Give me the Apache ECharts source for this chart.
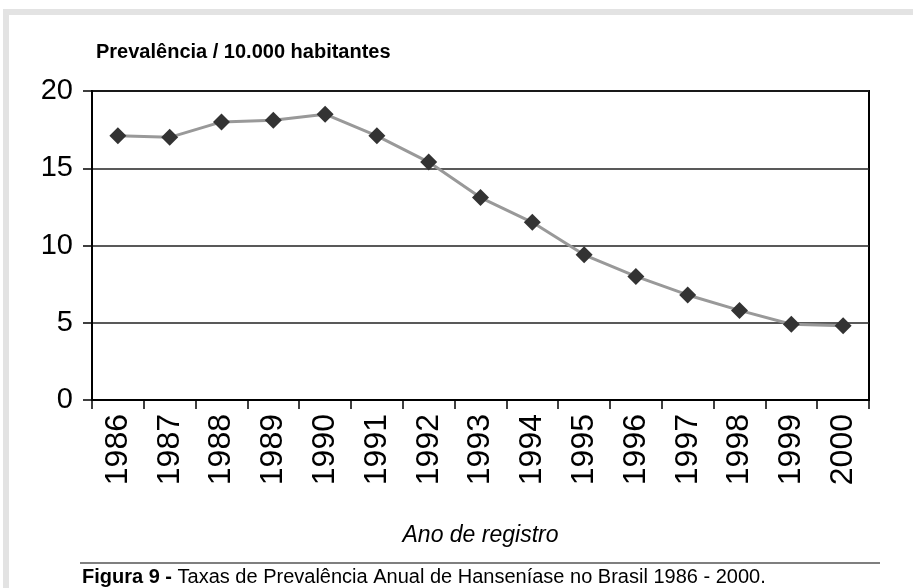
<!DOCTYPE html>
<html>
<head>
<meta charset="utf-8">
<script src="https://cdn.jsdelivr.net/npm/echarts@6/dist/echarts.min.js"></script>
<style>
    html, body { margin: 0; padding: 0; background: #fff; }
    #main { width: 913px; height: 588px; }
</style>
</head>
<body>
<div id="main"></div>
<script>
    var anos = ['1986', '1987', '1988', '1989', '1990', '1991', '1992', '1993',
        '1994', '1995', '1996', '1997', '1998', '1999', '2000'];
    // prevalencia por 10.000 habitantes
    var prevalencia = [17.1, 17.0, 18.0, 18.1, 18.5, 17.1, 15.4, 13.1,
        11.5, 9.4, 8.0, 6.8, 5.8, 4.9, 4.8];
    var yMin = 0, yMax = 20, yStep = 5;

    var titulo = 'Prevalência / 10.000 habitantes';
    var eixoX = 'Ano de registro';

    var fonte = 'Liberation Sans, Arial, sans-serif';

    var myChart = echarts.init(document.getElementById('main'));
    myChart.setOption({
        animation: false,
        backgroundColor: '#fff',
        title: {
            text: titulo,
            left: 96,
            top: 42,
            padding: 0,
            textStyle: {
                fontFamily: fonte,
                fontWeight: 'bold',
                fontSize: 20,
                color: '#000'
            }
        },
        grid: {
            left: 92,
            right: 44,
            top: 91,
            bottom: 188,
            show: true,
            borderColor: '#000',
            borderWidth: 2,
            backgroundColor: '#fff'
        },
        xAxis: {
            type: 'category',
            data: anos,
            boundaryGap: true,
            name: eixoX,
            nameLocation: 'middle',
            nameGap: 124,
            nameTextStyle: {
                fontFamily: fonte,
                fontStyle: 'italic',
                fontSize: 23,
                color: '#000'
            },
            axisLine: { lineStyle: { color: '#000', width: 2 } },
            axisTick: {
                show: true,
                length: 9,
                interval: 0,
                lineStyle: { color: '#000', width: 1.5 }
            },
            axisLabel: {
                rotate: 90,
                interval: 0,
                margin: 14,
                fontFamily: fonte,
                fontSize: 32,
                color: '#000'
            },
            splitLine: { show: false }
        },
        yAxis: {
            type: 'value',
            min: yMin,
            max: yMax,
            interval: yStep,
            axisLine: { show: true, lineStyle: { color: '#000', width: 2 } },
            axisTick: {
                show: true,
                length: 9,
                lineStyle: { color: '#000', width: 1.5 }
            },
            axisLabel: {
                margin: 19,
                fontFamily: fonte,
                fontSize: 29,
                color: '#000'
            },
            splitLine: { lineStyle: { color: '#222', width: 1.5 } }
        },
        series: [{
            type: 'line',
            data: prevalencia,
            symbol: 'diamond',
            symbolSize: 17,
            lineStyle: { color: '#999', width: 3 },
            itemStyle: { color: '#333' },
            z: 3
        }],
        graphic: [
            // moldura cinza
            { type: 'rect', shape: { x: 3, y: 9, width: 910, height: 6 }, style: { fill: '#e3e3e3' } },
            { type: 'rect', shape: { x: 3, y: 9, width: 6, height: 579 }, style: { fill: '#e3e3e3' } },
            // linha da legenda
            { type: 'line', shape: { x1: 80, y1: 563, x2: 880, y2: 563 }, style: { stroke: '#555', lineWidth: 1.5 } },
            {
                type: 'text',
                left: 82,
                top: 567,
                style: {
                    text: '{b|Figura 9 -} Taxas de Prevalência Anual de Hanseníase no Brasil 1986 - 2000.',
                    font: '20px ' + fonte,
                    fill: '#000',
                    rich: {
                        b: { fontFamily: fonte, fontSize: 20, fontWeight: 'bold', fill: '#000' }
                    }
                }
            }
        ]
    });
</script>
</body>
</html>
